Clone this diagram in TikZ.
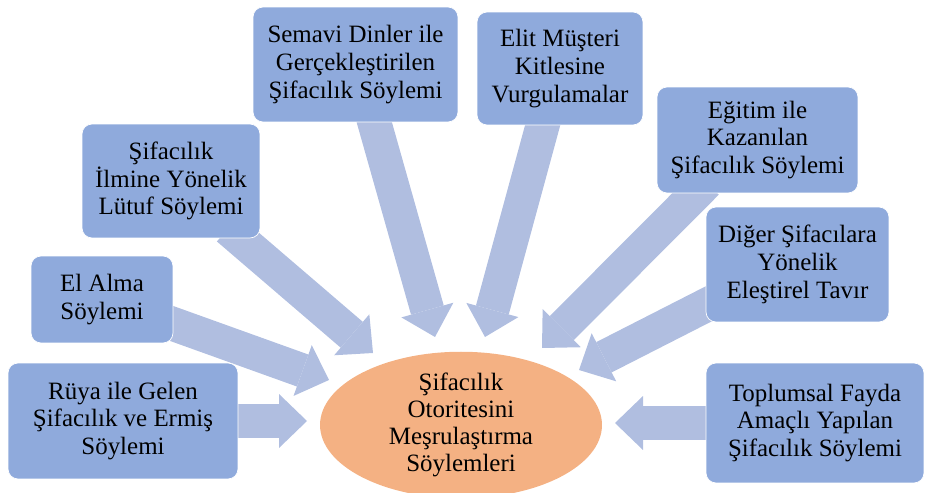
\documentclass[tikz,border=0pt]{standalone}
\usepackage{fontspec}
\setmainfont{Liberation Serif}
\usepackage{xcolor}
\usepackage{tikz}
\usetikzlibrary{shapes,arrows.meta,backgrounds}

\definecolor{boxblue}{HTML}{8FAADC}
\definecolor{arrowblue}{HTML}{B0BEE0}
\definecolor{coreorange}{HTML}{F4B183}

\begin{document}
\begin{tikzpicture}[
    x=0.02cm, y=-0.02cm,
    box/.style={rectangle, draw=white, thin, fill=boxblue, rounded corners=0.2cm, inner sep=2pt, align=center, font=\fontsize{14.2}{15.8}\selectfont},
    core/.style={ellipse, fill=coreorange, minimum width=5.64cm, minimum height=2.8cm, inner sep=0pt, align=center, font=\fontsize{14.2}{15.3}\selectfont},
    fat/.style={draw=arrowblue, line width=0.68cm, -{Triangle[width=1.08cm, length=0.56cm, line width=0pt]}, shorten <=-0.3cm}
]
    \useasboundingbox (0,0) rectangle (926,493);

    % Center
    \node[core] (core) at (461,425) {Şifacılık\\Otoritesini\\Meşrulaştırma\\Söylemleri};

    % Discourses
    \node[box, minimum width=4.6cm, minimum height=2.32cm] (ruya) at (123,421) {Rüya ile Gelen\\Şifacılık ve Ermiş\\Söylemi};
    \node[box, minimum width=2.84cm, minimum height=1.74cm] (elalma) at (102,299.5) {El Alma\\Söylemi};
    \node[box, minimum width=3.56cm, minimum height=2.28cm] (ilm) at (171,181) {Şifacılık\\İlmine Yönelik\\Lütuf Söylemi};
    \node[box, minimum width=4.1cm, minimum height=2.3cm] (sem) at (355.5,64.5) {Semavi Dinler ile\\Gerçekleştirilen\\Şifacılık Söylemi};
    \node[box, minimum width=3.32cm, minimum height=2.26cm] (elit) at (560,68.5) {Elit Müşteri\\Kitlesine\\Vurgulamalar};
    \node[box, minimum width=4.02cm, minimum height=2.12cm] (egitim) at (757.5,140) {Eğitim ile\\Kazanılan\\Şifacılık Söylemi};
    \node[box, minimum width=3.66cm, minimum height=2.3cm] (diger) at (797.5,264.5) {Diğer Şifacılara\\Yönelik\\Eleştirel Tavır};
    \node[box, minimum width=4.36cm, minimum height=2.4cm] (toplum) at (815,423) {Toplumsal Fayda\\Amaçlı Yapılan\\Şifacılık Söylemi};

    % Arrow tips
    \coordinate (tRuya) at (307,421);
    \coordinate (tElalma) at (329,380);
    \coordinate (tIlm) at (373,353);
    \coordinate (tSem) at (435,337);
    \coordinate (tElit) at (485,337);
    \coordinate (tEgitim) at (542,348);
    \coordinate (tDiger) at (579,370);
    \coordinate (tToplum) at (615,423);

    % Arrows
    \begin{scope}[on background layer]
    \draw[fat] (ruya.east) -- (tRuya);
    \draw[fat] (elalma.-19) -- (tElalma);
    \draw[fat] (ilm.-40) -- (tIlm);
    \draw[fat] (sem.-72) -- (tSem);
    \draw[fat] (elit.-107) -- (tElit);
    \draw[fat] (egitim.-139) -- (tEgitim);
    \draw[fat] (diger.-156) -- (tDiger);
    \draw[fat] (toplum.west) -- (tToplum);
    \end{scope}
\end{tikzpicture}
\end{document}
